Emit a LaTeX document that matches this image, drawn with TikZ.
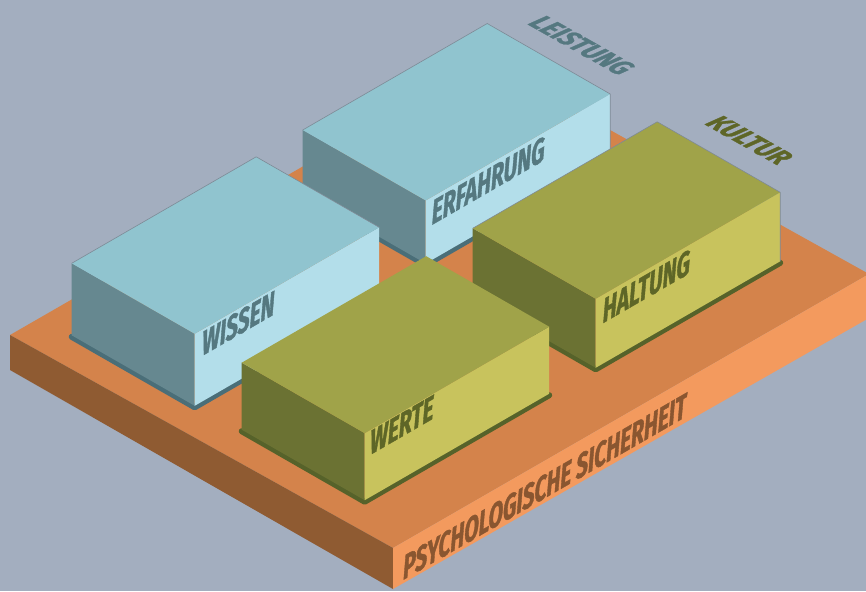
\documentclass[tikz,border=0pt]{standalone}
\usepackage{fontspec}
\newfontfamily\labelfont{Fira Sans}[FakeStretch=0.72, BoldItalicFeatures={FakeBold=1.3}]
\definecolor{bgcol}{HTML}{A3AEBF}
\definecolor{basetopcol}{HTML}{D4834B}
\definecolor{baseleftcol}{HTML}{8F5B32}
\definecolor{baserightcol}{HTML}{F39A5E}
\definecolor{basetextcol}{HTML}{8A5630}
\definecolor{bluetopcol}{HTML}{90C4CF}
\definecolor{blueleftcol}{HTML}{668890}
\definecolor{bluerightcol}{HTML}{B3DEEA}
\definecolor{bluetextcol}{HTML}{557880}
\definecolor{bluerimcol}{HTML}{4A6E78}
\definecolor{greentopcol}{HTML}{A0A349}
\definecolor{greenleftcol}{HTML}{6B7233}
\definecolor{greenrightcol}{HTML}{C8C35D}
\definecolor{greentextcol}{HTML}{5E6627}
\definecolor{greenrimcol}{HTML}{56622A}
\definecolor{edgecol}{HTML}{7E8A96}
\tikzset{
  facelabel/.style={font=\labelfont\bfseries\itshape\fontsize{34}{34}\selectfont, inner sep=0pt, anchor=base west},
  onright/.style={cm={0.866,0.5,0,1,(0,0)}},
  onground/.style={cm={0.8716,-0.4903,0.72,0.41,(0,0)}},
  rim/.style={line width=6pt, line join=round, line cap=round},
  edge/.style={draw=edgecol, line width=0.6pt, line join=round},
}
\begin{document}
\begin{tikzpicture}[x=1pt,y=-1pt]
\useasboundingbox (0,0) rectangle (866,591);
\fill[bgcol] (0,0) rectangle (866,591);
\begin{scope}[shift={(10,335)}] %BASE
\fill[basetopcol] (0,0) -- (476,-274) -- (859,-61) -- (383,213) -- cycle;
\fill[baseleftcol] (0,0) -- (383,213) -- (383,254) -- (0,35) -- cycle;
\fill[baserightcol] (383,213) -- (859,-61) -- (859,-17) -- (383,254) -- cycle;
\node[facelabel, onright, text=basetextcol] (psych) at (393,245) {PSYCHOLOGISCHE SICHERHEIT};
\end{scope}
\node[facelabel, onground, text=bluetextcol] (leistung) at (527,24) {LEISTUNG};
\node[facelabel, onground, text=greentextcol] (kultur) at (704,124) {KULTUR};
\begin{scope}[shift={(302.7,130)}] %ERFAHRUNG
\draw[rim, bluerimcol] (0,64.5) -- (123,135) -- (307.5,28.5);
\fill[blueleftcol] (0,0) -- (123,70.5) -- (123,133.5) -- (0,63) -- cycle;
\fill[bluerightcol] (123,70.5) -- (307.5,-36) -- (307.5,27) -- (123,133.5) -- cycle;
\fill[bluetopcol] (0,0) -- (184.5,-106.5) -- (307.5,-36) -- (123,70.5) -- cycle;
\draw[edge] (0,0) -- (184.5,-106.5) -- (307.5,-36) -- (307.5,27);
\node[facelabel, onright, text=bluetextcol] (erfahrung) at (129,95) {ERFAHRUNG};
\end{scope}
\begin{scope}[shift={(472.7,228.3)}] %HALTUNG
\draw[rim, greenrimcol] (0,70.5) -- (123,141) -- (307.5,34.5);
\fill[greenleftcol] (0,0) -- (123,70.5) -- (123,139.5) -- (0,69) -- cycle;
\fill[greenrightcol] (123,70.5) -- (307.5,-36) -- (307.5,33) -- (123,139.5) -- cycle;
\fill[greentopcol] (0,0) -- (184.5,-106.5) -- (307.5,-36) -- (123,70.5) -- cycle;
\draw[edge] (0,0) -- (184.5,-106.5) -- (307.5,-36) -- (307.5,33);
\node[facelabel, onright, text=greentextcol] (haltung) at (130,95) {HALTUNG};
\end{scope}
\begin{scope}[shift={(71.7,263.3)}] %WISSEN
\draw[rim, bluerimcol] (0,73.5) -- (123,144) -- (307.5,37.5);
\fill[blueleftcol] (0,0) -- (123,70.5) -- (123,142.5) -- (0,72) -- cycle;
\fill[bluerightcol] (123,70.5) -- (307.5,-36) -- (307.5,36) -- (123,142.5) -- cycle;
\fill[bluetopcol] (0,0) -- (184.5,-106.5) -- (307.5,-36) -- (123,70.5) -- cycle;
\draw[edge] (0,0) -- (184.5,-106.5) -- (307.5,-36);
\node[facelabel, onright, text=bluetextcol] (wissen) at (130.3,92.7) {WISSEN};
\end{scope}
\begin{scope}[shift={(241.7,362.7)}] %WERTE
\draw[rim, greenrimcol] (0,68.5) -- (123,139) -- (307.5,32.5);
\fill[greenleftcol] (0,0) -- (123,70.5) -- (123,137.5) -- (0,67) -- cycle;
\fill[greenrightcol] (123,70.5) -- (307.5,-36) -- (307.5,31) -- (123,137.5) -- cycle;
\fill[greentopcol] (0,0) -- (184.5,-106.5) -- (307.5,-36) -- (123,70.5) -- cycle;
\node[facelabel, onright, text=greentextcol] (werte) at (128.3,92.3) {WERTE};
\end{scope}
\end{tikzpicture}
\end{document}
